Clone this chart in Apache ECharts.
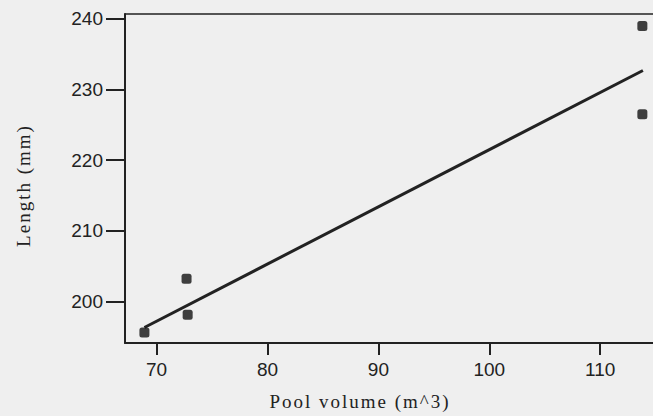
<!DOCTYPE html>
<html>
<head>
<meta charset="utf-8">
<script src="https://cdn.jsdelivr.net/npm/echarts@6/dist/echarts.min.js"></script>
<style>
  html, body { margin: 0; padding: 0; background: #efefef; }
  #chart { width: 653px; height: 416px; }
  /* the scanned axis titles are widely spaced */
  #chart text[style*="Serif"] { letter-spacing: 2px; }
</style>
</head>
<body>
<div id="chart"></div>
<script>
const poolVolume = [68.9, 72.7, 72.8, 113.8, 113.8];
const lengthMm = [195.6, 203.2, 198.1, 239.0, 226.5];

// fitted line end points
const fitX = [68.9, 113.85];
const fitY = [196.3, 232.7];

const xTicks = [70, 80, 90, 100, 110];
const yTicks = [200, 210, 220, 230, 240];

const ink = '#222';
const chart = echarts.init(document.getElementById('chart'), null, { renderer: 'svg' });

chart.setOption({
  backgroundColor: '#efefef',
  animation: false,
  grid: { left: 125, top: 14, bottom: 71, right: 0 },
  xAxis: [
    {
      type: 'value',
      min: 67.15, max: 114.76,
      name: 'Pool volume (m^3)',
      nameLocation: 'middle',
      nameGap: 49,
      nameTextStyle: { fontFamily: 'Liberation Serif', fontSize: 19, color: ink, padding: [0, 58, 0, 0] },
      axisLine: { lineStyle: { color: ink, width: 2 } },
      axisTick: { show: true, length: 12, customValues: xTicks, lineStyle: { color: ink, width: 2 } },
      axisLabel: { customValues: xTicks, margin: 17, fontFamily: 'Liberation Sans', fontSize: 19, color: ink },
      splitLine: { show: false }
    },
    {
      // top frame line only
      type: 'value',
      position: 'top',
      min: 67.15, max: 114.76,
      axisLine: { show: true, lineStyle: { color: ink, width: 1.5 } },
      axisTick: { show: false },
      axisLabel: { show: false },
      splitLine: { show: false }
    }
  ],
  yAxis: {
    type: 'value',
    min: 194.1, max: 240.7,
    name: 'Length (mm)',
    nameLocation: 'middle',
    nameGap: 92,
    nameTextStyle: { fontFamily: 'Liberation Serif', fontSize: 19, color: ink, padding: [0, 14, 0, 0] },
    axisLine: { show: true, lineStyle: { color: ink, width: 2 } },
    axisTick: { show: true, length: 19, customValues: yTicks, lineStyle: { color: ink, width: 2 } },
    axisLabel: { customValues: yTicks, margin: 22, fontFamily: 'Liberation Sans', fontSize: 19, color: ink },
    splitLine: { show: false }
  },
  series: [
    {
      type: 'line',
      data: fitX.map((x, i) => [x, fitY[i]]),
      showSymbol: false,
      lineStyle: { color: ink, width: 3 },
      z: 2
    },
    {
      type: 'scatter',
      data: poolVolume.map((x, i) => [x, lengthMm[i]]),
      symbol: 'roundRect',
      symbolSize: 10,
      itemStyle: { color: '#111' },
      z: 3
    }
  ]
});
</script>
</body>
</html>
